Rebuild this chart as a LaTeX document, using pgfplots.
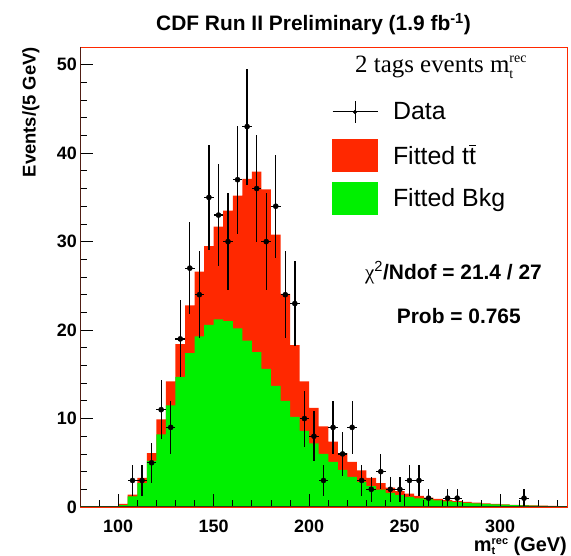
\documentclass[border=0pt]{standalone}
\usepackage{fontspec}
\setmainfont{Liberation Sans}
\newfontfamily\serifrm{Liberation Serif}
\usepackage{amsmath}
\usepackage{pgfplots}
\usepackage{pgfplotstable}
\pgfplotsset{compat=1.18}
\definecolor{hred}{RGB}{255,40,0}
\definecolor{hgreen}{RGB}{0,240,0}
\definecolor{axleft}{RGB}{80,30,20}
\definecolor{axbottom}{RGB}{40,60,20}

\pgfplotstableread{
x red green
80 0 0
85 0 0
90 0 0
95 0 0
100 0.35 0.2
105 1.4 1.2
110 3.3 2.7
115 6.1 5.2
120 9.9 8.2
125 14.2 11.5
130 18.4 14.7
135 22.8 17.4
140 26.6 19.3
145 29.5 20.6
150 31.7 21.2
155 33.5 21.0
160 35.2 20.2
165 37.1 18.8
170 37.9 17.5
175 35.9 15.6
180 30.8 13.7
185 24.1 12.0
190 18.3 10.2
195 14.2 8.6
200 11.2 7.2
205 9.1 6.0
210 7.4 5.1
215 6.1 4.2
220 5.1 3.4
225 4.15 2.85
230 3.3 2.35
235 2.7 1.95
240 2.2 1.6
245 1.8 1.35
250 1.5 1.15
255 1.27 0.97
260 1.07 0.85
265 0.92 0.74
270 0.78 0.64
275 0.67 0.56
280 0.57 0.48
285 0.49 0.41
290 0.41 0.35
295 0.35 0.3
300 0.3 0.26
305 0.25 0.22
310 0.21 0.19
315 0.18 0.16
320 0.15 0.13
325 0.13 0.11
330 0.11 0.1
335 0.11 0.1
}\hist

\pgfplotstableread{
x y ex ey
107.5 3 2.5 1.732
112.5 3 2.5 1.732
117.5 5 2.5 2.236
122.5 11 2.5 3.317
127.5 9 2.5 3.0
132.5 19 2.5 4.359
137.5 27 2.5 5.196
142.5 24 2.5 4.899
147.5 35 2.5 5.916
152.5 33 2.5 5.745
157.5 30 2.5 5.477
162.5 37 2.5 6.083
167.5 43 2.5 6.557
172.5 36 2.5 6.0
177.5 30 2.5 5.477
182.5 34 2.5 5.831
187.5 24 2.5 4.899
192.5 23 2.5 4.796
197.5 10 2.5 3.162
202.5 8 2.5 2.828
207.5 3 2.5 1.732
212.5 9 2.5 3.0
217.5 6 2.5 2.449
222.5 9 2.5 3.0
227.5 3 2.5 1.732
232.5 2 2.5 1.414
237.5 4 2.5 2.0
242.5 2 2.5 1.414
247.5 2 2.5 1.414
252.5 3 2.5 1.732
257.5 3 2.5 1.732
262.5 1 2.5 1.0
272.5 1 2.5 1.0
277.5 1 2.5 1.0
312.5 1 2.5 1.0
}\datatab

\begin{document}
\begin{tikzpicture}
\path[use as bounding box] (0,0) rectangle (571bp,556bp);
\begin{axis}[
  name=ax,
  at={(80bp,49bp)}, anchor=south west,
  width=487bp, height=460bp, scale only axis,
  xmin=80, xmax=335, ymin=0, ymax=52,
  xtick={100,150,200,250,300}, ytick={0,10,20,30,40,50},
  minor xtick={90,110,120,130,140,160,170,180,190,210,220,230,240,260,270,280,290,310,320,330},
  minor ytick={2,4,6,8,12,14,16,18,22,24,26,28,32,34,36,38,42,44,46,48},
  tick pos=left, tick align=inside,
  major tick length=13bp, minor tick length=6.5bp,
  tick style={black, line width=0.8bp},
  axis line style={hred, line width=0.9bp},
  axis on top,
  ticklabel style={font=\fontsize{18}{20}\selectfont\bfseries},
  /pgf/number format/assume math mode=true,
  xticklabel style={anchor=north, inner sep=0pt, yshift=-13bp},
  yticklabel style={anchor=east, inner sep=0pt, xshift=-3bp},
  legend cell align=left,
  legend style={at={(rel axis cs:0.5175,0.8935)}, anchor=north west,
    draw=none, fill=none, inner sep=0pt, outer sep=0pt,
    row sep=11bp, column sep=15bp,
    font=\fontsize{25}{30}\selectfont, nodes={inner sep=0pt}},
]
\addlegendimage{legend image code/.code={
  \path[draw=none, fill=none] (0bp,-16bp) rectangle (45bp,16bp);
  \draw[black, line width=1bp] (0bp,0bp) -- (45bp,0bp);
  \draw[black, line width=1bp] (22.5bp,-11bp) -- (22.5bp,11bp);
  \fill[black] (22.5bp,0bp) circle (1.8bp);}}
\addlegendentry{Data}
\addlegendimage{legend image code/.code={\fill[hred] (0bp,-16bp) rectangle (45bp,16bp);}}
\addlegendentry{Fitted t$\overline{\mbox{t}}$}
\addlegendimage{legend image code/.code={\fill[hgreen] (0bp,-16bp) rectangle (45bp,16bp);}}
\addlegendentry{Fitted Bkg}

\addplot[const plot, fill=hred, draw=none, forget plot] table[x=x, y=red] {\hist} \closedcycle;
\addplot[const plot, fill=hgreen, draw=none, forget plot] table[x=x, y=green] {\hist} \closedcycle;
\addplot[only marks, mark=*, mark size=2.6bp, black, forget plot,
  error bars/.cd, x dir=both, x explicit, y dir=both, y explicit,
  error mark=none, error bar style={line width=1.3bp, black}]
  table[x=x, y=y, x error=ex, y error=ey] {\datatab};
\end{axis}
\draw[axleft, line width=1bp] (ax.north west) -- (ax.south west);
\draw[axbottom, line width=1bp] (ax.south west) -- (ax.south east);

\node[anchor=base, font=\fontsize{21}{24}\selectfont\bfseries] at (313.5bp,525bp)
  {CDF Run II Preliminary (1.9 fb\textsuperscript{-1})};
\node[rotate=90, anchor=base east, inner sep=0pt, font=\fontsize{18.5}{20}\selectfont\bfseries]
  at (35.5bp,509bp) {Events/(5 GeV)};
\node[anchor=base east, inner sep=0pt, font=\fontsize{20}{22}\selectfont\bfseries]
  at (567bp,5bp) {m\rlap{\raisebox{-3.5bp}{\fontsize{11}{11}\selectfont t}}\raisebox{6.5bp}{\fontsize{11}{11}\selectfont rec} (GeV)};
\node[anchor=base west, inner sep=0pt, font=\fontsize{25}{28}\selectfont\serifrm]
  at (355bp,483.3bp) {2 tags events m\rlap{\raisebox{-6bp}{\fontsize{14}{14}\selectfont t}}\raisebox{10bp}{\fontsize{14}{14}\selectfont rec}};
\node[anchor=base west, inner sep=0pt, font=\fontsize{21}{24}\selectfont\bfseries]
  at (365bp,276.7bp) {{\serifrm\mdseries χ}\textsuperscript{\mdseries 2}/Ndof = 21.4 / 27};
\node[anchor=base west, inner sep=0pt, font=\fontsize{21}{24}\selectfont\bfseries]
  at (396.7bp,232.7bp) {Prob = 0.765};
\end{tikzpicture}
\end{document}
